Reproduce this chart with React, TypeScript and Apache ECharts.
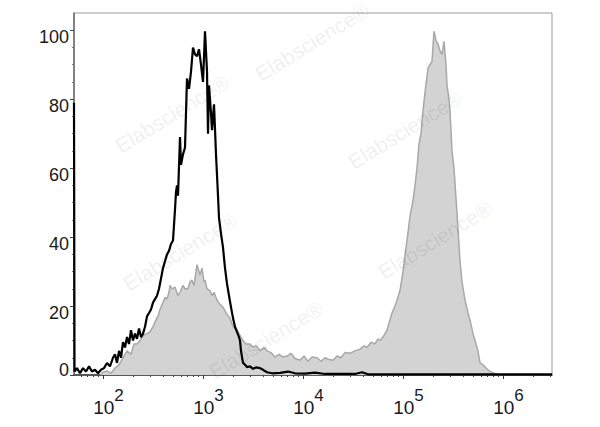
import React, { useEffect, useRef } from "react";
import * as echarts from "echarts";

// x values are log10(fluorescence intensity), y values are % of max
const blackHist: [number, number][] = [
  [1.71, 79], [1.715, 1], [1.74, 2], [1.77, 0.5], [1.8, 2], [1.83, 1], [1.86, 2.5], [1.89, 1],
  [1.92, 1.5], [1.95, 0.5], [1.98, 1.5], [2.01, 2], [2.04, 3.5], [2.07, 2.5], [2.1, 5], [2.12, 6],
  [2.14, 3.5], [2.16, 7], [2.18, 5], [2.2, 9.5], [2.22, 8], [2.24, 11], [2.26, 9], [2.28, 13],
  [2.3, 10], [2.32, 12], [2.34, 10.5], [2.36, 13.5], [2.38, 11], [2.4, 12], [2.42, 14], [2.44, 17],
  [2.46, 18], [2.48, 19], [2.5, 21], [2.52, 22], [2.54, 23], [2.56, 25], [2.58, 28], [2.6, 31],
  [2.62, 33], [2.64, 35], [2.66, 36], [2.68, 38], [2.7, 39], [2.72, 48], [2.73, 53], [2.74, 55],
  [2.75, 52], [2.77, 69], [2.78, 61], [2.8, 64], [2.82, 66], [2.84, 86], [2.86, 83], [2.88, 88],
  [2.9, 95], [2.92, 93], [2.94, 92.5], [2.96, 94.5], [2.98, 90], [3.0, 85], [3.02, 99.7], [3.04, 88],
  [3.05, 70], [3.06, 84], [3.08, 76], [3.09, 71], [3.11, 78.5], [3.13, 64], [3.15, 52], [3.16, 45.6],
  [3.18, 41], [3.2, 37], [3.22, 31], [3.24, 26.5], [3.26, 23], [3.28, 19.7], [3.3, 16.5], [3.32, 14],
  [3.34, 12.5], [3.36, 11], [3.37, 10], [3.38, 7], [3.4, 3.5], [3.42, 3], [3.44, 2.3], [3.47, 2.5],
  [3.5, 1.8], [3.53, 2.2], [3.57, 2], [3.6, 1.5], [3.64, 0.8], [3.69, 0.5], [3.77, 0.6], [3.85, 1],
  [3.92, 0.5], [4.02, 0.4], [4.12, 0.7], [4.22, 0.3], [4.37, 0.3], [4.52, 0.3], [4.59, 0.8],
  [4.65, 0.2], [4.97, 0.2], [5.47, 0.2], [5.97, 0.2], [6.49, 0.2],
];

const grayHist: [number, number][] = [
  [1.97, 0], [2.0, 0.8], [2.04, 1.2], [2.08, 0.5], [2.12, 2], [2.16, 3], [2.2, 5], [2.24, 7],
  [2.28, 6], [2.31, 9], [2.34, 9], [2.37, 10], [2.4, 11.5], [2.44, 12], [2.47, 12.5], [2.5, 14],
  [2.53, 16], [2.55, 17], [2.57, 19], [2.6, 21], [2.62, 22.5], [2.64, 22], [2.66, 24], [2.67, 26],
  [2.69, 25], [2.72, 25.5], [2.75, 23], [2.77, 24], [2.8, 26], [2.82, 25], [2.85, 25], [2.87, 27],
  [2.89, 27.5], [2.91, 26], [2.93, 30], [2.94, 32], [2.96, 30], [2.97, 29], [2.99, 31], [3.01, 27],
  [3.02, 27.5], [3.04, 25], [3.07, 24.5], [3.09, 23], [3.11, 24], [3.14, 21.7], [3.17, 20.5],
  [3.2, 19.7], [3.23, 18], [3.27, 16.5], [3.3, 14], [3.34, 13], [3.37, 11.5], [3.4, 10], [3.43, 9],
  [3.47, 9], [3.5, 8], [3.53, 8.5], [3.57, 7], [3.61, 8], [3.64, 7], [3.68, 6.5], [3.72, 5.2],
  [3.76, 6], [3.8, 5.2], [3.84, 5.5], [3.88, 6.3], [3.92, 4.8], [3.97, 4.3], [4.01, 5.5], [4.05, 4],
  [4.09, 5.2], [4.14, 5], [4.18, 4], [4.22, 5], [4.26, 4.5], [4.3, 4.3], [4.34, 5.5], [4.38, 5],
  [4.42, 6.5], [4.47, 6.3], [4.52, 7], [4.57, 7.5], [4.61, 8.5], [4.64, 8], [4.68, 9.5], [4.72, 9],
  [4.75, 10.5], [4.77, 10], [4.8, 11], [4.82, 12], [4.84, 13], [4.86, 15], [4.89, 18], [4.92, 20],
  [4.94, 21.7], [4.97, 24.5], [5.0, 30], [5.02, 34.7], [5.04, 39], [5.07, 46], [5.1, 50.6],
  [5.12, 55], [5.14, 60], [5.16, 67], [5.18, 70], [5.2, 76.6], [5.22, 82], [5.25, 89], [5.27, 90],
  [5.29, 91], [5.31, 99.7], [5.33, 97], [5.35, 96], [5.37, 94], [5.39, 93], [5.41, 96.8], [5.43, 90],
  [5.44, 84], [5.46, 80], [5.47, 76.6], [5.49, 65], [5.51, 60], [5.52, 55.5], [5.54, 47], [5.57, 33],
  [5.59, 27], [5.62, 21.7], [5.65, 18], [5.67, 16], [5.7, 12], [5.72, 10], [5.75, 7], [5.77, 3.5],
  [5.8, 3], [5.83, 2], [5.87, 1], [5.91, 0.5], [5.94, 0.3], [5.97, 0],
];

const xMajorTicks = [2, 3, 4, 5, 6];
const yMajorTicks = [0, 20, 40, 60, 80, 100];
const yMinorTicks = [5, 10, 15, 25, 30, 35, 45, 50, 55, 65, 70, 75, 85, 90, 95];
const xMin = 1.71;
const xMax = 6.49;
const yMax = 105;
const watermark = "Elabscience®";

export default function App() {
  const ref = useRef<HTMLDivElement>(null);
  useEffect(() => {
    if (!ref.current) return;
    const chart = echarts.init(ref.current, null, { renderer: "svg" });
    const xMinor: number[] = [];
    for (let d = 1; d <= 6; d++) {
      for (let k = 2; k <= 9; k++) {
        const v = d + Math.log10(k);
        if (v > xMin && v < xMax) xMinor.push(v);
      }
    }
    const font = "'Liberation Sans', Arial, sans-serif";
    const wmPos: [number, number][] = [
      [172, 114], [312, 42], [405, 130], [180, 252], [435, 240], [266, 340],
    ];
    chart.setOption({
      animation: false,
      backgroundColor: "#ffffff",
      grid: {
        left: 74,
        right: 48,
        top: 13,
        bottom: 52,
        show: true,
        borderColor: "#9a9a9a",
        borderWidth: 1,
      },
      xAxis: [
        {
          type: "value",
          position: "bottom",
          min: xMin,
          max: xMax,
          axisLine: { show: true, lineStyle: { color: "#333", width: 1.5 } },
          splitLine: { show: false },
          axisTick: { show: true, customValues: xMajorTicks, length: 4, lineStyle: { color: "#333" } },
          axisLabel: {
            customValues: xMajorTicks,
            margin: 12,
            padding: [0, 0, 0, 11],
            formatter: (v: number) => `{b|10}{s|${Math.round(v)}}`,
            rich: {
              b: { fontSize: 19, fontFamily: font, color: "#1a1a1a", verticalAlign: "bottom", lineHeight: 30 },
              s: { fontSize: 17, fontFamily: font, color: "#1a1a1a", verticalAlign: "top", lineHeight: 17 },
            },
          },
        },
        {
          type: "value",
          position: "bottom",
          min: xMin,
          max: xMax,
          axisLine: { show: false },
          splitLine: { show: false },
          axisTick: { show: true, customValues: xMinor, length: 2, lineStyle: { color: "#444" } },
          axisLabel: { show: false },
        },
      ],
      yAxis: [
        {
          type: "value",
          position: "left",
          min: 0,
          max: yMax,
          axisLine: { show: true, lineStyle: { color: "#6a6a6a", width: 1.5 } },
          splitLine: { show: false },
          axisTick: { show: true, customValues: yMajorTicks, length: 4, lineStyle: { color: "#444" } },
          axisLabel: {
            customValues: yMajorTicks,
            margin: 5,
            verticalAlign: "middle",
            formatter: (v: number) => (v === 0 ? `{z|0}` : `{n|${v}}`),
            rich: {
              n: { fontSize: 18, fontFamily: font, color: "#1a1a1a", lineHeight: 15, padding: [14, 0, 0, 0] },
              z: { fontSize: 18, fontFamily: font, color: "#1a1a1a", lineHeight: 15, padding: [0, 0, 10, 0] },
            },
          },
        },
        {
          type: "value",
          position: "left",
          min: 0,
          max: yMax,
          axisLine: { show: false },
          splitLine: { show: false },
          axisTick: { show: true, customValues: yMinorTicks, length: 2, lineStyle: { color: "#777" } },
          axisLabel: { show: false },
        },
      ],
      graphic: wmPos.map(([x, y]) => ({
        type: "text",
        x,
        y,
        rotation: 0.55,
        z: 100,
        silent: true,
        style: {
          text: watermark,
          fontSize: 21,
          fontFamily: font,
          fill: "rgba(0,0,0,0.08)",
          align: "center",
          verticalAlign: "middle",
        },
      })),
      series: [
        {
          type: "line",
          data: grayHist,
          symbol: "none",
          lineStyle: { color: "#a8a8a8", width: 1.5 },
          areaStyle: { color: "#d3d3d3", opacity: 1 },
          z: 2,
        },
        {
          type: "line",
          data: blackHist,
          symbol: "none",
          lineStyle: { color: "#000000", width: 2.2 },
          z: 3,
        },
      ],
    });
    return () => chart.dispose();
  }, []);
  return (
    <div
      ref={ref}
      style={{ position: "absolute", left: 0, top: 0, width: 600, height: 427 }}
    />
  );
}
